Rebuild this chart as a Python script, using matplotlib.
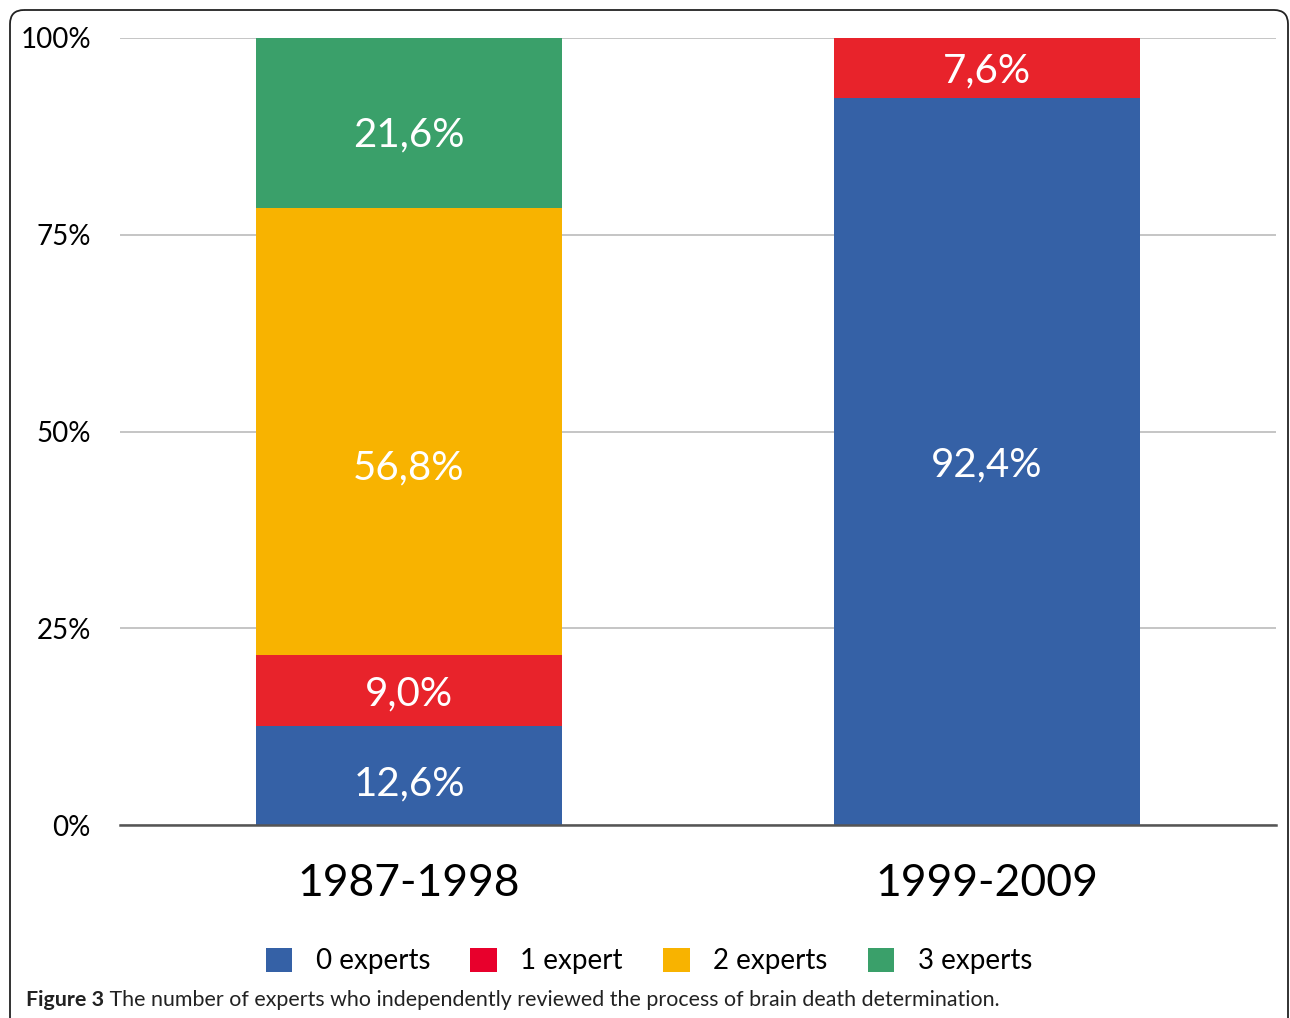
import matplotlib
matplotlib.use("Agg")
import matplotlib.pyplot as plt
from matplotlib.patches import FancyBboxPatch, Patch
import numpy as np

plt.rcParams['font.family'] = ['Lato', 'DejaVu Sans']

periods = ["1987-1998", "1999-2009"]
series_names = ["0 experts", "1 expert", "2 experts", "3 experts"]
values = {
    "0 experts": [12.6, 92.4],
    "1 expert": [9.0, 7.6],
    "2 experts": [56.8, 0.0],
    "3 experts": [21.6, 0.0],
}
labels = {
    "0 experts": ["12,6%", "92,4%"],
    "1 expert": ["9,0%", "7,6%"],
    "2 experts": ["56,8%", ""],
    "3 experts": ["21,6%", ""],
}
bar_colors = ["#3561A6", "#E8232B", "#F8B300", "#3AA06A"]
legend_colors = ["#3561A6", "#E8002C", "#F8B300", "#3AA06A"]
yticks = [0, 25, 50, 75, 100]
ytick_labels = ["0%", "25%", "50%", "75%", "100%"]
caption_bold = "Figure 3"
caption_rest = " The number of experts who independently reviewed the process of brain death determination."

# small visual nudges of value labels (in axis % units), as in the original
label_nudge = {("2 experts", 0): -4.2, ("3 experts", 0): -1.1, ("0 experts", 0): -0.6}

W, H = 1290, 1018
fig = plt.figure(figsize=(W / 100, H / 100), dpi=100)

# background frame axes in pixel coordinates
bg = fig.add_axes([0, 0, 1, 1], zorder=-5)
bg.set_xlim(0, W)
bg.set_ylim(H, 0)
bg.axis('off')
frame = FancyBboxPatch((10, 10), 1278, 1100, boxstyle="round,pad=0,rounding_size=14",
                       fill=False, edgecolor="#222222", linewidth=1.3)
bg.add_patch(frame)

ax = fig.add_axes([120 / W, 1 - 825 / H, (1276 - 120) / W, (825 - 38) / H])
x = np.arange(len(periods))
bottom = np.zeros(len(periods))
for name, col in zip(series_names, bar_colors):
    vals = np.array(values[name])
    ax.bar(x, vals, width=0.528, bottom=bottom, color=col, zorder=3, linewidth=0)
    for i, (v, lab) in enumerate(zip(vals, labels[name])):
        if v > 0 and lab:
            ax.text(x[i], bottom[i] + v / 2 + label_nudge.get((name, i), 0), lab,
                    ha='center', va='center_baseline',
                    color='white', fontsize=29, zorder=4)
    bottom += vals

ax.set_xlim(-0.5, 1.5)
ax.set_ylim(0, 100)
ax.set_yticks(yticks)
ax.set_yticklabels(ytick_labels, fontsize=20)
ax.set_xticks(x)
ax.set_xticklabels(periods, fontsize=32)
ax.tick_params(axis='y', length=0, pad=21)
ax.tick_params(axis='x', length=0, pad=27)
for s in ax.spines.values():
    s.set_visible(False)
ax.yaxis.grid(True, color="#BBBBBB", linewidth=1.2, zorder=0)
ax.set_axisbelow(True)
ax.axhline(0, color="#555555", linewidth=1.8, zorder=5, clip_on=False)

handles = [Patch(facecolor=c, edgecolor='none') for c in legend_colors]
fig.legend(handles, series_names, loc='center', bbox_to_anchor=(0.5 + 4 / W, 1 - 961 / H),
           ncol=4, frameon=False, fontsize=20, handlelength=0.95, handleheight=0.95,
           handletextpad=0.85, columnspacing=1.45)

t = fig.text(26 / W, 1 - 1000 / H, caption_bold, fontsize=15.4, fontweight='bold',
             va='center', ha='left', color='#222222')
fig.canvas.draw()
bb = t.get_window_extent()
fig.text(bb.x1 / W, 1 - 1000 / H, caption_rest, fontsize=15.4, va='center', ha='left',
         color='#222222')

fig.savefig("out.png", dpi=100)
